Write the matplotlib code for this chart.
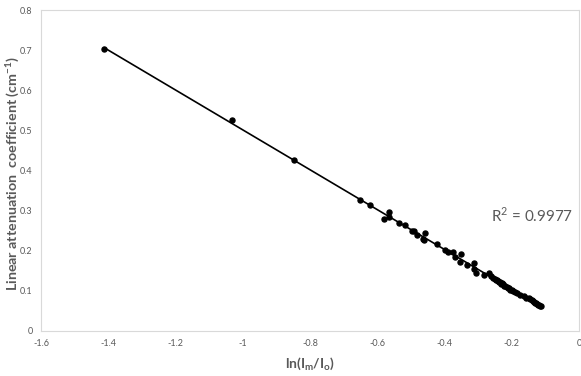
import numpy as np
import matplotlib
matplotlib.use('Agg')
from matplotlib import pyplot as plt
from matplotlib.ticker import FuncFormatter, MultipleLocator

# 데이터
ln_ratio = [-1.412, -1.031, -0.847, -0.651, -0.621, -0.566, -0.566, -0.581,
            -0.534, -0.517, -0.497, -0.492, -0.482, -0.459, -0.464, -0.462,
            -0.422, -0.398, -0.389, -0.376, -0.368, -0.351, -0.353, -0.333,
            -0.313, -0.313, -0.305, -0.284, -0.269, -0.262, -0.255, -0.251,
            -0.247, -0.244, -0.240, -0.237, -0.234, -0.231, -0.228, -0.225,
            -0.222, -0.219, -0.215, -0.212, -0.208, -0.204, -0.200, -0.196,
            -0.190, -0.184, -0.176, -0.165, -0.157, -0.150, -0.145, -0.140,
            -0.137, -0.134, -0.131, -0.128, -0.125, -0.122, -0.119, -0.116,
            -0.114]
mu = [0.703, 0.526, 0.426, 0.327, 0.313, 0.296, 0.285, 0.279,
      0.269, 0.264, 0.248, 0.250, 0.239, 0.244, 0.229, 0.227,
      0.216, 0.202, 0.196, 0.198, 0.185, 0.191, 0.172, 0.165,
      0.169, 0.154, 0.145, 0.140, 0.144, 0.136, 0.133, 0.130,
      0.128, 0.127, 0.125, 0.122, 0.121, 0.118, 0.119, 0.116,
      0.113, 0.112, 0.110, 0.108, 0.106, 0.103, 0.101, 0.099,
      0.097, 0.094, 0.089, 0.086, 0.083, 0.081, 0.079, 0.077,
      0.075, 0.072, 0.071, 0.069, 0.068, 0.066, 0.065, 0.063,
      0.062]
r2_text = 'R$^2$ = 0.9977'

gray = '#595959'
plt.rcParams['font.family'] = ['Lato', 'DejaVu Sans']
plt.rcParams['mathtext.fontset'] = 'custom'
plt.rcParams['mathtext.rm'] = 'Lato'
plt.rcParams['mathtext.bf'] = 'Lato:bold'

fig = plt.figure(figsize=(5.81, 3.76), dpi=100)
ax = fig.add_axes([0.0706, 0.1197, 0.926, 0.8537])

x = np.array(ln_ratio)
y = np.array(mu)
p = np.polyfit(x, y, 1)
xx = np.array([x.min(), x.max()])
ax.plot(xx, np.polyval(p, xx), color='black', lw=1.2, zorder=2)
ax.plot(x, y, 'o', color='black', ms=3.6, zorder=3)

ax.set_xlim(-1.6, 0)
ax.set_ylim(0, 0.8)
ax.xaxis.set_major_locator(MultipleLocator(0.2))
ax.yaxis.set_major_locator(MultipleLocator(0.1))
fmt = FuncFormatter(lambda v, pos: '{:g}'.format(round(v, 2)))
ax.xaxis.set_major_formatter(fmt)
ax.yaxis.set_major_formatter(fmt)
ax.tick_params(length=0, labelsize=6.5, labelcolor=gray, pad=6)
for s in ax.spines.values():
    s.set_color('#d9d9d9')
    s.set_linewidth(0.8)

ax.set_xlabel(r'ln(I$_\mathbf{m}$/I$_\mathbf{o}$)', fontsize=10, fontweight='bold',
              color=gray)
ax.set_ylabel(r'Linear attenuation  coefficient (cm$^\mathbf{-1}$)', fontsize=10.3,
              fontweight='bold', color=gray)
ax.xaxis.set_label_coords(0.5, -0.075)
ax.yaxis.set_label_coords(-0.038, 0.49)
ax.text(0.836, 0.361, r2_text, transform=ax.transAxes, fontsize=11, color=gray,
        va='center')

plt.savefig('out.png', dpi=100)
